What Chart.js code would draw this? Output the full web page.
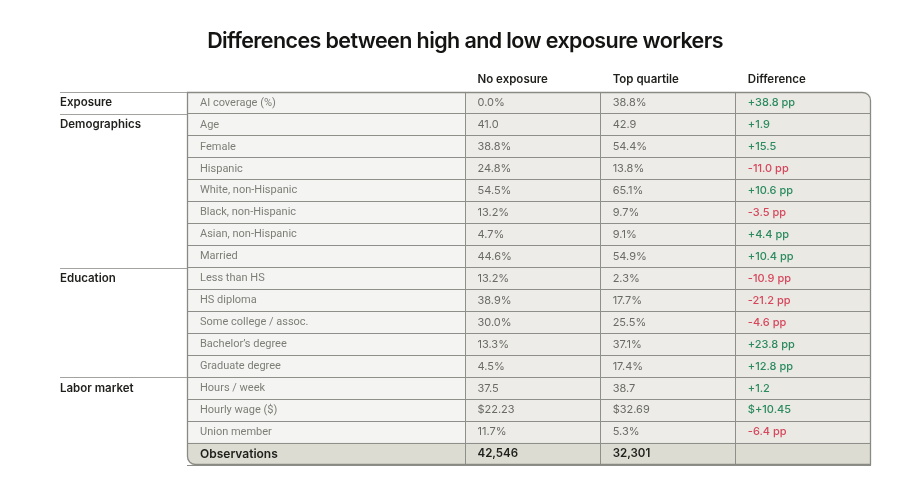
<!DOCTYPE html>
<html>
<head>
<meta charset="utf-8">
<script src="https://cdn.jsdelivr.net/npm/chart.js@4.4.1/dist/chart.umd.min.js"></script>
<style>
  html, body { margin: 0; padding: 0; background: #ffffff; }
  #wrap { width: 915px; height: 496px; }
</style>
</head>
<body>
<div id="wrap"><canvas id="table"></canvas></div>
<script>
// rows of the table
const rowLabels = ['AI coverage (%)', 'Age', 'Female', 'Hispanic', 'White, non-Hispanic',
  'Black, non-Hispanic', 'Asian, non-Hispanic', 'Married', 'Less than HS', 'HS diploma',
  'Some college / assoc.', 'Bachelor\u2019s degree', 'Graduate degree', 'Hours / week',
  'Hourly wage ($)', 'Union member', 'Observations'];
const rowFormat = ['pct', 'num', 'pct', 'pct', 'pct', 'pct', 'pct', 'pct', 'pct', 'pct',
  'pct', 'pct', 'pct', 'num', 'usd', 'pct', 'int'];

const noExposure = [0.0, 41.0, 38.8, 24.8, 54.5, 13.2, 4.7, 44.6, 13.2, 38.9, 30.0, 13.3, 4.5, 37.5, 22.23, 11.7, 42546];
const topQuartile = [38.8, 42.9, 54.4, 13.8, 65.1, 9.7, 9.1, 54.9, 2.3, 17.7, 25.5, 37.1, 17.4, 38.7, 32.69, 5.3, 32301];
const difference = [38.8, 1.9, 15.5, -11.0, 10.6, -3.5, 4.4, 10.4, -10.9, -21.2, -4.6, 23.8, 12.8, 1.2, 10.45, -6.4, null];
const diffSuffix = [' pp', '', '', ' pp', ' pp', ' pp', ' pp', ' pp', ' pp', ' pp', ' pp', ' pp', ' pp', '', '', ' pp', ''];

const title = 'Differences between high and low exposure workers';
const columnHeaders = ['No exposure', 'Top quartile', 'Difference'];
const groupNames = ['Exposure', 'Demographics', 'Education', 'Labor market'];
const groupStart = [0, 1, 8, 13];

// layout: column edges in x-scale units (label column is about twice as wide)
const colEdges = [0, 2.06, 3.06, 4.06, 5.06];
const FONT = 'Inter, "Noto Sans", sans-serif';
const LABEL_FONT = 'Roboto, Inter, sans-serif';
const lastRow = rowLabels.length - 1;

function fmt(v, kind) {
  if (v === null) return '';
  if (kind === 'pct') return v.toFixed(1) + '%';
  if (kind === 'usd') return '$' + v.toFixed(2);
  if (kind === 'int') return v.toLocaleString('en-US');
  return v.toFixed(1);
}
function fmtDiff(v, i) {
  if (v === null) return '';
  let sign = v >= 0 ? '+' : '-';
  if (rowFormat[i] === 'usd') return '$' + sign + Math.abs(v).toFixed(2);
  return sign + Math.abs(v).toFixed(1) + diffSuffix[i];
}

function cellColumn(c, bg, obsBg) {
  return {
    label: c,
    data: rowLabels.map(() => [colEdges[c], colEdges[c + 1]]),
    grouped: false,
    barPercentage: 1,
    categoryPercentage: 1,
    borderWidth: 0,
    borderSkipped: false,
    backgroundColor: ctx => ctx.dataIndex === lastRow ? obsBg : bg,
    borderRadius: ctx => {
      if (c === 3 && ctx.dataIndex === 0) return {topRight: 8};
      if (c === 0 && ctx.dataIndex === lastRow) return {bottomLeft: 8};
      return 0;
    }
  };
}

const tablePlugin = {
  id: 'tableText',
  afterDraw(chart) {
    const {ctx, chartArea: a, scales: {x, y}} = chart;
    const rowH = y.getPixelForValue(1) - y.getPixelForValue(0);
    ctx.save();

    // title
    ctx.fillStyle = '#141413';
    ctx.font = '600 21.5px ' + FONT;
    ctx.letterSpacing = '-0.6px';
    ctx.textAlign = 'center';
    ctx.textBaseline = 'middle';
    ctx.fillText(title, 465, 42);
    ctx.letterSpacing = '0px';

    // outer frame
    ctx.strokeStyle = '#8a8a85';
    ctx.lineWidth = 1.3;
    ctx.beginPath();
    ctx.roundRect(a.left + 0.5, a.top + 0.5, a.width - 1, a.height - 1, [0, 8, 0, 8]);
    ctx.stroke();

    // group lines and labels on the left
    ctx.strokeStyle = '#a3a39f';
    ctx.lineWidth = 1;
    ctx.textAlign = 'left';
    groupStart.forEach((g, k) => {
      let yy = Math.round(y.getPixelForValue(g) - rowH / 2) + 0.5;
      ctx.beginPath();
      ctx.moveTo(60, yy);
      ctx.lineTo(a.left, yy);
      ctx.stroke();
      ctx.fillStyle = '#1f1f1c';
      ctx.font = '600 11.5px ' + FONT;
      ctx.fillText(groupNames[k], 60, y.getPixelForValue(g));
    });

    // column headers
    columnHeaders.forEach((h, k) => {
      ctx.fillStyle = '#1f1f1c';
      ctx.font = '600 11.5px ' + FONT;
      ctx.fillText(h, x.getPixelForValue(colEdges[k + 1]) + 12, a.top - 12);
    });

    // cell values
    rowLabels.forEach((r, i) => {
      let yy = y.getPixelForValue(i);
      let obs = i === lastRow;
      ctx.font = (obs ? '600 11.5px ' : '400 11px ') + FONT;
      ctx.fillStyle = obs ? '#1f1f1c' : '#6b6b66';
      ctx.fillText(fmt(noExposure[i], rowFormat[i]), x.getPixelForValue(colEdges[1]) + 12, yy);
      ctx.fillText(fmt(topQuartile[i], rowFormat[i]), x.getPixelForValue(colEdges[2]) + 12, yy);
      if (difference[i] !== null) {
        ctx.font = '500 11px ' + FONT;
        ctx.fillStyle = difference[i] >= 0 ? '#2b8a5e' : '#d6475c';
        ctx.fillText(fmtDiff(difference[i], i), x.getPixelForValue(colEdges[3]) + 12, yy);
      }
    });
    ctx.restore();
  }
};

function tableLoader() {
  let tableKaart = document.getElementById('table').getContext('2d');
  new Chart(tableKaart, {
    type: 'bar',
    data: {
      labels: rowLabels,
      datasets: [
        cellColumn(0, '#f4f4f2', '#dcdcd2'),
        cellColumn(1, '#edece8', '#dcdcd2'),
        cellColumn(2, '#edece8', '#dcdcd2'),
        cellColumn(3, '#eae9e4', '#dcdcd2')
      ]
    },
    options: {
      indexAxis: 'y',
      responsive: true,
      maintainAspectRatio: false,
      animation: false,
      layout: { padding: { left: 161, right: 44, top: 92, bottom: 31 } },
      plugins: {
        legend: { display: false },
        tooltip: { enabled: false },
        title: { display: false }
      },
      scales: {
        x: {
          type: 'linear',
          min: colEdges[0],
          max: colEdges[colEdges.length - 1],
          afterBuildTicks: axis => { axis.ticks = colEdges.map(v => ({value: v})); },
          ticks: { display: false },
          border: { display: false },
          grid: {
            z: 1,
            drawTicks: false,
            color: c => (c.index === 0 || c.index === colEdges.length - 1) ? 'rgba(0,0,0,0)' : '#8e8e8a',
            lineWidth: 1
          }
        },
        y: {
          border: { display: false },
          grid: {
            z: 1,
            offset: true,
            drawTicks: false,
            color: c => (c.index === 0 || c.index >= rowLabels.length) ? 'rgba(0,0,0,0)' : '#8e8e8a',
            lineWidth: 1
          },
          ticks: {
            z: 2,
            mirror: true,
            padding: 13,
            autoSkip: false,
            color: c => c.index === lastRow ? '#1f1f1c' : '#7d7d78',
            font: c => c.index === lastRow
              ? { family: FONT, size: 12, weight: '600' }
              : { family: LABEL_FONT, size: 11, weight: '400' }
          }
        }
      }
    },
    plugins: [tablePlugin]
  });
}
window.onload = function(){
  tableLoader();
};
</script>
</body>
</html>
